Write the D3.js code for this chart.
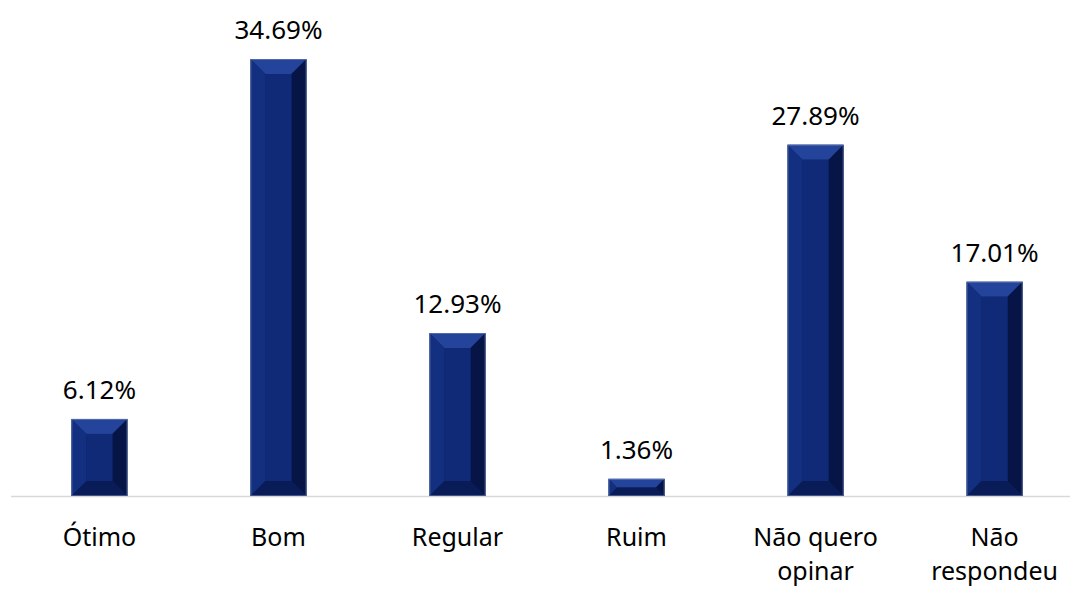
<!DOCTYPE html>
<html><head><meta charset="utf-8">
<script src="https://cdn.jsdelivr.net/npm/d3@7"></script>
<style>body{margin:0;background:#fff}svg{display:block}</style>
</head><body>
<script>
const categories = [["Ótimo"],["Bom"],["Regular"],["Ruim"],["Não quero","opinar"],["Não","respondeu"]];
const values = [6.12, 34.69, 12.93, 1.36, 27.89, 17.01];
const labels = ["6.12%","34.69%","12.93%","1.36%","27.89%","17.01%"];

const W=1070,H=592;
const svg=d3.select("body").append("svg").attr("width",W).attr("height",H);
const x=d3.scaleBand().domain(d3.range(categories.length)).range([10,1084]).paddingInner(0.687).paddingOuter(0.343);
const y=d3.scaleLinear().domain([0,34.69]).range([496,59]);
const font="'Noto Sans', 'Open Sans', sans-serif";
const fs=26, fsCat=25;

svg.append("line").attr("x1",11).attr("x2",W).attr("y1",496.5).attr("y2",496.5).attr("stroke","#d9d9d9").attr("stroke-width",1.5);

const g=svg.selectAll("g.bar").data(values).enter().append("g");
g.each(function(v,i){
  const s=d3.select(this);
  const x0=x(i), bw=x.bandwidth(), y0=y(v), y1=y(0), h=y1-y0;
  const b=Math.min(15, h/2, bw/2);
  const x1=x0+bw;
  s.append("rect").attr("x",x0).attr("y",y0).attr("width",bw).attr("height",h).attr("fill","#0c2268");
  s.append("path").attr("d",`M${x0},${y0}L${x1},${y0}L${x1-b},${y0+b}L${x0+b},${y0+b}Z`).attr("fill","#24439a");
  s.append("path").attr("d",`M${x0},${y0}L${x0+b},${y0+b}L${x0+b},${y1-b}L${x0},${y1}Z`).attr("fill","#12307f");
  s.append("path").attr("d",`M${x1},${y0}L${x1-b},${y0+b}L${x1-b},${y1-b}L${x1},${y1}Z`).attr("fill","#061446");
  s.append("path").attr("d",`M${x0},${y1}L${x0+b},${y1-b}L${x1-b},${y1-b}L${x1},${y1}Z`).attr("fill","#0a1c57");
  s.append("rect").attr("x",x0+b).attr("y",y0+b).attr("width",Math.max(0,bw-2*b)).attr("height",Math.max(0,h-2*b)).attr("fill","#112a78");
  s.append("rect").attr("x",x0+0.5).attr("y",y0+0.5).attr("width",bw-1).attr("height",h-1).attr("fill","none").attr("stroke","#7f93c0").attr("stroke-width",0.8).attr("stroke-opacity",0.6);
});

svg.selectAll("text.val").data(values).enter().append("text")
  .attr("x",(d,i)=>x(i)+x.bandwidth()/2).attr("y",d=>y(d)-20)
  .attr("text-anchor","middle").attr("font-family",font).attr("font-size",fs).attr("fill","#000")
  .text((d,i)=>labels[i]);

svg.selectAll("text.cat").data(categories).enter().append("text")
  .attr("x",(d,i)=>x(i)+x.bandwidth()/2).attr("y",546)
  .attr("text-anchor","middle").attr("font-family",font).attr("font-size",fsCat).attr("fill","#000")
  .each(function(d,i){
    const t=d3.select(this);
    d.forEach((line,j)=>t.append("tspan").attr("x",x(i)+x.bandwidth()/2).attr("dy",j?34:0).text(line));
  });
</script>
</body></html>
